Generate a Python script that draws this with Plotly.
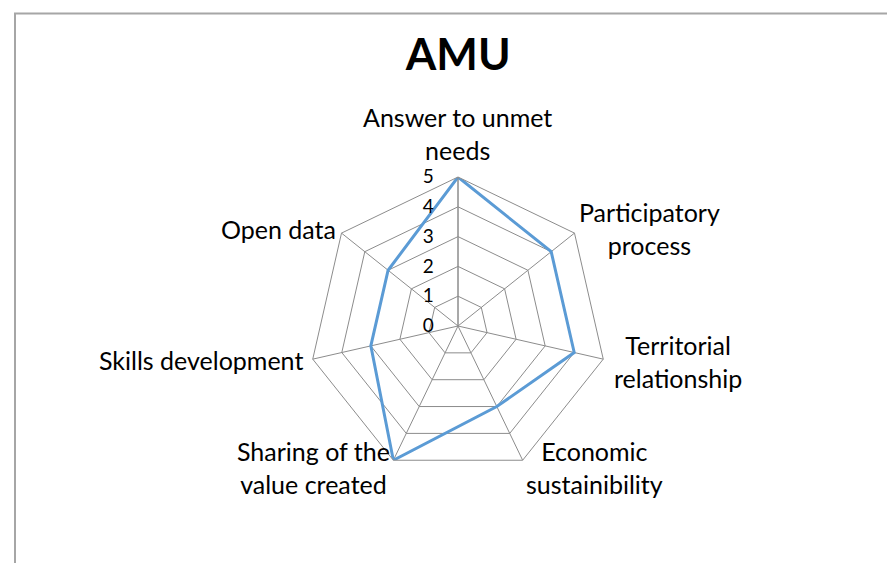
import plotly.graph_objects as go

categories = ["Answer to unmet needs", "Participatory process", "Territorial relationship",
              "Economic sustainibility", "Sharing of the value created", "Skills development", "Open data"]
scores = [5, 4, 4, 3, 5, 3, 3]
radial_ticks = [0, 1, 2, 3, 4, 5]

# label text (with line breaks) and where it sits, in pixels of the 895x563 page
label_text = ["Answer to unmet<br>needs", "Participatory<br>process", "Territorial<br>relationship",
              "Economic<br>sustainibility", "Sharing of the<br>value created", "Skills development", "Open data"]
label_pos = [(449, 126, "center"), (641, 221, "center"), (670, 353, "center"), (586, 459, "center"),
             (305, 459, "center"), (297, 352, "right"), (330, 221, "right")]

W, H = 895, 563
fig = go.Figure()
fig.add_trace(go.Scatterpolar(r=scores + scores[:1], theta=categories + categories[:1], mode="lines",
                              line=dict(color="#5B9BD5", width=3), showlegend=False, hoverinfo="skip"))

for txt, (px_, py_, anc) in zip(label_text, label_pos):
    fig.add_annotation(text=txt, x=px_ / W, y=1 - py_ / H, xref="paper", yref="paper",
                       xanchor=anc, yanchor="middle", align="center", showarrow=False,
                       font=dict(size=25, family="Lato", color="black"))

grey = "#8C8C8C"
fig.update_layout(
    width=W, height=H,
    margin=dict(l=0, r=0, t=0, b=0),
    paper_bgcolor="white",
    font=dict(family="Lato", color="black", size=20),
    title=dict(text="<b>AMU</b>", x=0.503, y=0.918, xanchor="center", yanchor="middle",
               font=dict(size=44, family="Lato")),
    polar=dict(
        domain=dict(x=[301/W, 599/W], y=[96/H, 394/H]),
        gridshape="linear",
        bgcolor="white",
        angularaxis=dict(direction="clockwise", rotation=90, showline=True, linecolor=grey, linewidth=1,
                         gridcolor=grey, gridwidth=1, ticks="", showticklabels=False),
        radialaxis=dict(range=[0, 5], tickvals=radial_ticks, angle=90, tickangle=90,
                        side="counterclockwise", showline=True, linecolor=grey, linewidth=1,
                        gridcolor=grey, gridwidth=1, ticks="outside", ticklen=17, tickcolor="rgba(0,0,0,0)",
                        tickfont=dict(size=19, family="Lato")),
    ),
    shapes=[dict(type="rect", xref="paper", yref="paper", x0=7/W, x1=1.2, y0=-0.2, y1=1-5.5/H,
                 line=dict(color="#A6A6A6", width=2))],
)

fig.write_html("out.html")
